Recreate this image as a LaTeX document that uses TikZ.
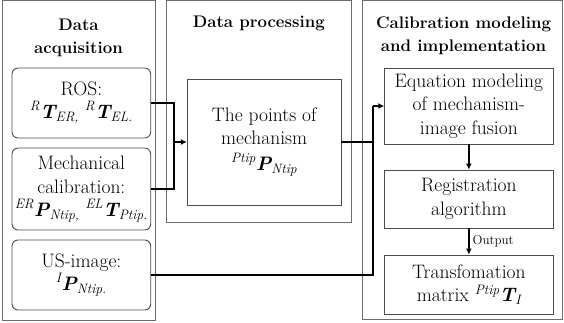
\documentclass[tikz,border=0pt]{standalone}
\usetikzlibrary{arrows.meta}
\newcommand{\sps}[1]{\textsuperscript{\itshape #1}}
\newcommand{\sbs}[1]{\textsubscript{\itshape #1}}
\newcommand{\bsym}[1]{{\bfseries\itshape #1}}
\tikzset{
  panel/.style={draw=gray!85!black, line width=0.9pt},
  title/.style={font=\fontsize{16.8}{22.5}\selectfont\bfseries, align=center, inner sep=0pt},
  rbox/.style={draw=gray!60!black, line width=0.9pt, rounded corners=6pt, align=center,
    font=\fontsize{19.5}{24}\selectfont, inner sep=0pt, minimum width=138.7pt},
  sbox/.style={draw=gray!60!black, line width=0.9pt, align=center,
    font=\fontsize{19.5}{23.5}\selectfont, inner sep=0pt},
  conn/.style={line width=1.6pt, black},
  arr/.style={conn, -{Latex[length=6pt,width=6pt]}},
}
\begin{document}
\begin{tikzpicture}[x=1pt,y=-1pt]
\useasboundingbox (0,0) rectangle (564,323);
% panels
\draw[panel] (2,0.6) rectangle (155.7,320);
\draw[panel] (166,0.6) rectangle (351.7,222.7);
\draw[panel] (362.7,0.6) rectangle (562.5,319);
% titles
\node[title] (t1) at (78.5,38) {Data\\acquisition};
\node[title] (t2) at (258.8,23) {Data processing};
\node[title] (t3) at (463.5,36) {Calibration modeling\\and implementation};
% left boxes
\node[rbox, minimum height=70pt] (ros) at (81.35,103) {ROS:\\[-1pt]\sps{R}\bsym{T}\sbs{ER,} \sps{R}\bsym{T}\sbs{EL.}};
\node[rbox, minimum height=82pt] (mech) at (81.35,189) {Mechanical\\calibration:\\[-1pt]\sps{ER}\bsym{P}\sbs{Ntip,} \sps{EL}\bsym{T}\sbs{Ptip.}};
\node[rbox, minimum height=70pt] (us) at (81.35,275) {US-image:\\[-1pt]\sps{I}\bsym{P}\sbs{Ntip.}};
% middle box
\node[sbox, minimum width=153.7pt, minimum height=126pt] (mid) at (264.15,142)
  {The points of\\mechanism\\[2pt]\sps{Ptip}\bsym{P}\sbs{Ntip}};
% right boxes
\node[sbox, minimum width=168.3pt, minimum height=76pt] (eq) at (468.85,106)
  {Equation modeling\\of mechanism-\\image fusion};
\node[sbox, minimum width=168.3pt, minimum height=58pt] (reg) at (468.85,199)
  {Registration\\algorithm};
\node[sbox, minimum width=168.3pt, minimum height=59pt] (tr) at (468.85,284.5)
  {Transfomation\\matrix \sps{Ptip}\bsym{T}\sbs{I}};
% connectors
\coordinate (j) at (174,142);
\coordinate (b) at (372.7,106);
\draw[conn] (ros.east) -| (j);
\draw[conn] (mech.east) -| (j);
\draw[arr] (j) -- (mid.west);
\draw[conn] (mid.east) -- (mid.east -| b);
\draw[conn] (us.east) -| (b);
\draw[arr] (b) -- (eq.west);
\draw[arr] (eq.south) -- (reg.north);
\draw[arr] (reg.south) -- node[right=3pt, font=\fontsize{13}{16}\selectfont, inner sep=0pt] (out) {Output} (tr.north);
\end{tikzpicture}
\end{document}
